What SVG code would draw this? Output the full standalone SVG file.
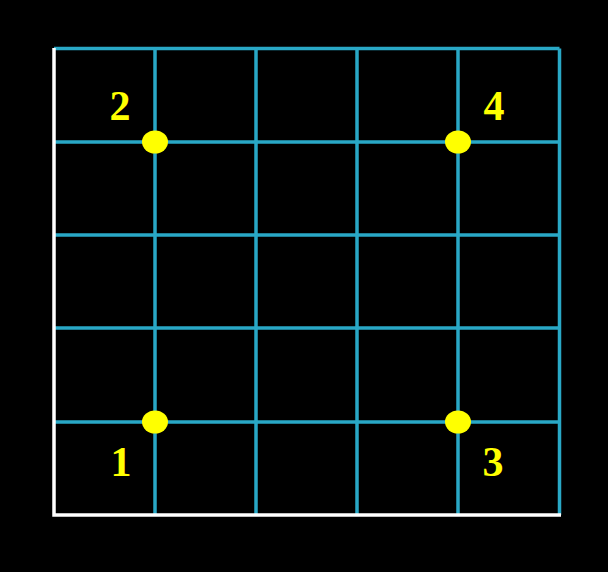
<svg xmlns="http://www.w3.org/2000/svg" width="608" height="572" viewBox="0 0 608 572">
<style>
.g{stroke:#29a8c6;stroke-width:3.5;fill:none}
.a{stroke:#ffffff;stroke-width:3.5;fill:none}
.d{fill:#ffff00}
.t{fill:#ffff00;font-family:"Liberation Serif","DejaVu Serif",serif;font-weight:bold;font-size:42px;text-anchor:middle}
</style>
<rect x="0" y="0" width="608" height="572" fill="#000000"/>
<g id="grid">
<path class="g" d="M155,48.5V515M256,48.5V515M357,48.5V515M458,48.5V515M559.5,48.5V515M54,48.5H559.5M54,142H559.5M54,235H559.5M54,328H559.5M54,422H559.5"/>
</g>
<g id="axes">
<path class="a" d="M54,48V515H561"/>
</g>
<g id="p1"><ellipse class="d" cx="155" cy="422" rx="13" ry="11.5"/><text class="t" x="121" y="476">1</text></g>
<g id="p2"><ellipse class="d" cx="155" cy="142" rx="13" ry="11.5"/><text class="t" x="120" y="120">2</text></g>
<g id="p3"><ellipse class="d" cx="458" cy="422" rx="13" ry="11.5"/><text class="t" x="493" y="476">3</text></g>
<g id="p4"><ellipse class="d" cx="458" cy="142" rx="13" ry="11.5"/><text class="t" x="494" y="120">4</text></g>
</svg>
